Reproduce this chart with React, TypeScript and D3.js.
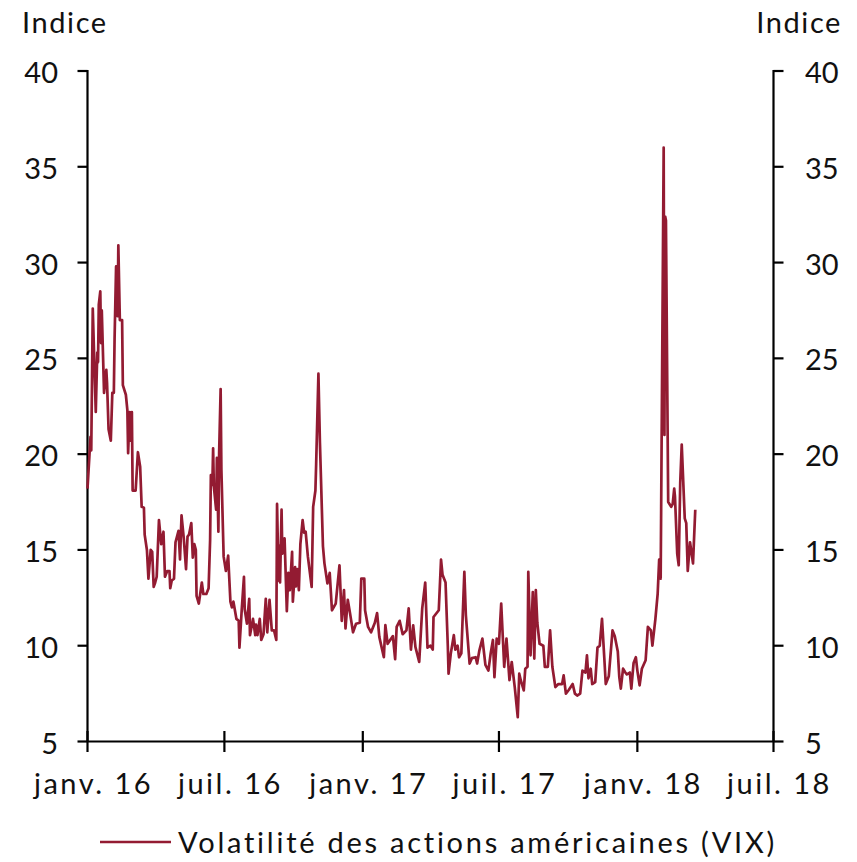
import * as React from 'react';
import * as d3 from 'd3';

// VIX readings (date, index level)
const vix2016: [string, number][] = [
  ['2016-01-01', 18.2], ['2016-01-05', 20.9], ['2016-01-06', 20.2], ['2016-01-08', 27.6], ['2016-01-12', 22.2],
  ['2016-01-14', 25.3], ['2016-01-15', 24.8], ['2016-01-16', 27.8], ['2016-01-18', 28.5], ['2016-01-19', 25.8],
  ['2016-01-20', 27.5], ['2016-01-23', 23.2], ['2016-01-26', 24.4], ['2016-01-27', 23.7], ['2016-01-29', 21.3],
  ['2016-02-01', 20.7], ['2016-02-03', 23.2], ['2016-02-05', 23.2], ['2016-02-06', 26.0], ['2016-02-08', 29.8],
  ['2016-02-09', 29.8], ['2016-02-10', 27.2], ['2016-02-11', 30.9], ['2016-02-13', 27.0], ['2016-02-16', 27.0],
  ['2016-02-17', 23.6], ['2016-02-21', 23.1], ['2016-02-23', 22.3], ['2016-02-24', 20.05], ['2016-02-26', 22.2],
  ['2016-02-27', 20.7], ['2016-02-29', 22.2], ['2016-03-01', 18.1], ['2016-03-05', 18.1], ['2016-03-08', 20.1],
  ['2016-03-11', 19.35], ['2016-03-13', 17.25], ['2016-03-16', 17.2], ['2016-03-17', 15.8], ['2016-03-20', 15.0],
  ['2016-03-22', 13.5], ['2016-03-25', 15.0], ['2016-03-27', 14.9], ['2016-03-29', 13.07], ['2016-03-31', 13.3],
  ['2016-04-02', 13.6], ['2016-04-05', 16.56], ['2016-04-08', 15.3], ['2016-04-11', 15.95], ['2016-04-13', 13.6],
  ['2016-04-16', 13.9], ['2016-04-19', 13.9], ['2016-04-20', 13.0], ['2016-04-22', 13.4], ['2016-04-25', 13.5],
  ['2016-04-27', 15.4], ['2016-05-01', 16.0], ['2016-05-03', 14.5], ['2016-05-05', 16.8], ['2016-05-08', 15.6],
  ['2016-05-11', 14.0], ['2016-05-13', 15.7], ['2016-05-15', 15.8], ['2016-05-18', 16.4], ['2016-05-20', 14.6],
  ['2016-05-22', 15.3], ['2016-05-24', 15.0], ['2016-05-25', 12.6], ['2016-05-28', 12.2], ['2016-06-01', 13.3],
  ['2016-06-03', 12.7], ['2016-06-07', 12.7], ['2016-06-10', 13.0], ['2016-06-12', 15.5], ['2016-06-13', 18.9],
  ['2016-06-15', 18.4], ['2016-06-16', 20.3], ['2016-06-17', 18.3], ['2016-06-20', 17.1], ['2016-06-21', 19.8],
  ['2016-06-23', 15.95], ['2016-06-24', 20.05], ['2016-06-26', 23.4], ['2016-06-27', 19.2], ['2016-06-30', 14.65],
  ['2016-07-03', 13.9], ['2016-07-06', 14.7], ['2016-07-09', 12.3], ['2016-07-11', 12.0], ['2016-07-13', 12.3],
  ['2016-07-17', 11.4], ['2016-07-20', 11.3], ['2016-07-21', 9.9], ['2016-07-24', 11.85], ['2016-07-27', 13.6],
  ['2016-07-28', 11.9], ['2016-07-31', 11.15], ['2016-08-03', 12.45], ['2016-08-04', 10.55], ['2016-08-08', 11.4],
  ['2016-08-11', 10.55], ['2016-08-12', 11.1], ['2016-08-14', 10.55], ['2016-08-17', 11.4], ['2016-08-19', 10.3],
  ['2016-08-22', 10.6], ['2016-08-25', 12.45], ['2016-08-27', 10.7], ['2016-08-30', 12.4], ['2016-09-02', 10.8],
  ['2016-09-05', 10.8], ['2016-09-08', 10.3], ['2016-09-09', 17.4], ['2016-09-11', 13.4], ['2016-09-12', 15.2],
  ['2016-09-13', 13.3], ['2016-09-15', 17.1], ['2016-09-16', 14.8], ['2016-09-19', 15.6], ['2016-09-22', 11.8],
  ['2016-09-24', 13.8], ['2016-09-26', 12.9], ['2016-09-29', 14.9], ['2016-09-30', 12.3], ['2016-10-03', 14.1],
  ['2016-10-04', 13.1], ['2016-10-06', 14.0], ['2016-10-08', 12.9], ['2016-10-10', 15.3], ['2016-10-13', 16.56],
  ['2016-10-15', 15.9], ['2016-10-17', 15.95], ['2016-10-20', 14.65], ['2016-10-25', 13.07], ['2016-10-27', 17.25],
  ['2016-10-30', 18.1], ['2016-10-31', 19.5], ['2016-11-03', 24.2], ['2016-11-05', 20.6], ['2016-11-09', 15.2],
  ['2016-11-11', 14.3], ['2016-11-15', 13.25], ['2016-11-18', 13.8], ['2016-11-21', 11.85], ['2016-11-26', 12.2],
  ['2016-12-01', 14.2], ['2016-12-04', 11.3], ['2016-12-07', 12.9], ['2016-12-09', 10.9], ['2016-12-12', 12.4],
  ['2016-12-15', 11.7], ['2016-12-19', 10.7], ['2016-12-23', 11.15], ['2016-12-28', 11.2], ['2016-12-30', 13.5],
];

const vix2017: [string, number][] = [
  ['2017-01-03', 13.5], ['2017-01-04', 11.85], ['2017-01-08', 10.98], ['2017-01-12', 10.7], ['2017-01-17', 11.2],
  ['2017-01-20', 11.7], ['2017-01-23', 10.45], ['2017-01-29', 9.4], ['2017-01-31', 11.07], ['2017-02-03', 10.1],
  ['2017-02-10', 10.5], ['2017-02-13', 9.3], ['2017-02-15', 10.98], ['2017-02-19', 11.3], ['2017-02-23', 10.6],
  ['2017-02-28', 10.8], ['2017-03-03', 11.95], ['2017-03-06', 9.8], ['2017-03-09', 11.06], ['2017-03-12', 9.93],
  ['2017-03-17', 9.15], ['2017-03-21', 11.95], ['2017-03-25', 13.3], ['2017-03-28', 9.9], ['2017-04-01', 10.0],
  ['2017-04-04', 9.8], ['2017-04-05', 11.5], ['2017-04-12', 11.85], ['2017-04-15', 14.5], ['2017-04-17', 13.7],
  ['2017-04-21', 13.3], ['2017-04-24', 10.0], ['2017-04-25', 8.54], ['2017-04-28', 9.6], ['2017-05-02', 10.55],
  ['2017-05-04', 9.8], ['2017-05-07', 10.0], ['2017-05-09', 9.4], ['2017-05-12', 9.6], ['2017-05-16', 13.86],
  ['2017-05-18', 11.6], ['2017-05-23', 9.07], ['2017-05-26', 9.35], ['2017-05-31', 9.4], ['2017-06-02', 9.07],
  ['2017-06-05', 9.76], ['2017-06-09', 10.37], ['2017-06-13', 9.0], ['2017-06-17', 8.7], ['2017-06-20', 9.6],
  ['2017-06-23', 10.3], ['2017-06-25', 8.36], ['2017-06-28', 10.37], ['2017-07-01', 10.1], ['2017-07-04', 12.2],
  ['2017-07-08', 8.9], ['2017-07-11', 10.37], ['2017-07-15', 8.2], ['2017-07-18', 9.15], ['2017-07-22', 7.84],
  ['2017-07-26', 6.27], ['2017-07-28', 8.54], ['2017-07-30', 8.2], ['2017-08-03', 7.67], ['2017-08-05', 8.8],
  ['2017-08-08', 8.9], ['2017-08-09', 13.86], ['2017-08-12', 9.5], ['2017-08-15', 12.8], ['2017-08-17', 9.33],
  ['2017-08-19', 12.9], ['2017-08-21', 11.2], ['2017-08-24', 10.1], ['2017-08-29', 10.0], ['2017-08-31', 8.9],
  ['2017-09-04', 8.9], ['2017-09-07', 10.8], ['2017-09-10', 8.9], ['2017-09-14', 7.84], ['2017-09-18', 8.0],
  ['2017-09-23', 8.0], ['2017-09-25', 8.45], ['2017-09-28', 7.5], ['2017-10-02', 7.7], ['2017-10-07', 8.0],
  ['2017-10-10', 7.5], ['2017-10-13', 7.4], ['2017-10-17', 7.5], ['2017-10-20', 8.7], ['2017-10-24', 8.6],
  ['2017-10-26', 9.5], ['2017-10-28', 8.3], ['2017-10-31', 8.8], ['2017-11-02', 8.0], ['2017-11-06', 8.1],
  ['2017-11-09', 9.9], ['2017-11-12', 10.0], ['2017-11-15', 11.4], ['2017-11-18', 9.4], ['2017-11-20', 8.0],
  ['2017-11-24', 8.4], ['2017-11-29', 10.8], ['2017-12-02', 10.5], ['2017-12-06', 9.7], ['2017-12-08', 8.36],
  ['2017-12-10', 7.76], ['2017-12-13', 8.8], ['2017-12-16', 8.6], ['2017-12-18', 8.5], ['2017-12-22', 8.6],
  ['2017-12-24', 7.76], ['2017-12-27', 9.1], ['2017-12-30', 9.4],
];

const vix2018: [string, number][] = [
  ['2018-01-01', 8.7], ['2018-01-04', 7.93], ['2018-01-07', 8.8], ['2018-01-12', 9.24], ['2018-01-15', 10.98],
  ['2018-01-19', 10.8], ['2018-01-21', 10.0], ['2018-01-25', 11.4], ['2018-01-28', 12.7], ['2018-01-30', 14.5],
  ['2018-02-01', 13.5], ['2018-02-05', 36.0], ['2018-02-06', 21.0], ['2018-02-07', 32.4], ['2018-02-08', 32.2],
  ['2018-02-11', 17.5], ['2018-02-15', 17.25], ['2018-02-17', 17.4], ['2018-02-19', 18.2], ['2018-02-20', 17.8],
  ['2018-02-23', 14.8], ['2018-02-25', 14.2], ['2018-02-27', 18.5], ['2018-03-01', 20.5], ['2018-03-05', 16.65],
  ['2018-03-07', 16.4], ['2018-03-09', 13.9], ['2018-03-12', 15.4], ['2018-03-16', 14.3], ['2018-03-19', 17.1],
];

const xTicks = ['2016-01-01', '2016-07-01', '2017-01-01', '2017-07-01', '2018-01-01', '2018-07-01'];
const xTickLabels = ['janv. 16', 'juil. 16', 'janv. 17', 'juil. 17', 'janv. 18', 'juil. 18'];
const yTicks = [5, 10, 15, 20, 25, 30, 35, 40];
const seriesName = 'Volatilité des actions américaines (VIX)';

const W = 857;
const H = 862;
const left = 87.5;
const right = 773.5;
const top = 71;
const bottom = 741.5;
const red = '#931b32';
const font = 'Lato, "Open Sans", sans-serif';
const fs = 29;

export default function App() {
  const parse = d3.timeParse('%Y-%m-%d');
  const data = [...vix2016, ...vix2017, ...vix2018].map(([d, v]) => ({ date: parse(d)!, value: v }));

  const x = d3.scaleTime()
    .domain([parse('2016-01-01')!, parse('2018-07-01')!])
    .range([left, right]);
  const y = d3.scaleLinear().domain([5, 40]).range([bottom, top]);

  const line = d3.line<{ date: Date; value: number }>()
    .x(d => x(d.date))
    .y(d => y(d.value));

  return (
    <svg width={W} height={H} style={{ position: 'absolute', left: 0, top: 0, background: '#fff' }}
      fontFamily={font} fontSize={fs} fill="#111">
      {/* axis titles */}
      <text x={22} y={33} letterSpacing={1.6}>Indice</text>
      <text x={842} y={33} textAnchor="end" letterSpacing={1.6}>Indice</text>

      {/* axes */}
      <g stroke="#000" strokeWidth={2.2}>
        <line x1={left} x2={left} y1={top - 1} y2={bottom} />
        <line x1={right} x2={right} y1={top - 1} y2={bottom} />
        <line x1={left} x2={right} y1={bottom} y2={bottom} />
        {yTicks.map(t => (
          <g key={t}>
            <line x1={left - 10} x2={left} y1={y(t)} y2={y(t)} />
            <line x1={right} x2={right + 10} y1={y(t)} y2={y(t)} />
          </g>
        ))}
        {xTicks.map(t => (
          <line key={t} x1={x(parse(t)!)} x2={x(parse(t)!)} y1={bottom - 10.5} y2={bottom + 10.5} />
        ))}
      </g>
      {yTicks.map(t => (
        <g key={t}>
          <text x={58} y={y(t) + 12} textAnchor="end">{t}</text>
          <text x={805} y={y(t) + 12}>{t}</text>
        </g>
      ))}
      {xTicks.map((t, i) => (
        <text key={t} x={x(parse(t)!) + 6} y={794} textAnchor="middle" letterSpacing={2.5}>
          {xTickLabels[i]}
        </text>
      ))}

      {/* series */}
      <path d={line(data) || undefined} fill="none" stroke={red} strokeWidth={2.7} strokeLinejoin="round" />

      {/* legend */}
      <line x1={100} x2={171} y1={842} y2={842} stroke={red} strokeWidth={2.7} />
      <text x={178} y={853} letterSpacing={2.75}>{seriesName}</text>
    </svg>
  );
}
